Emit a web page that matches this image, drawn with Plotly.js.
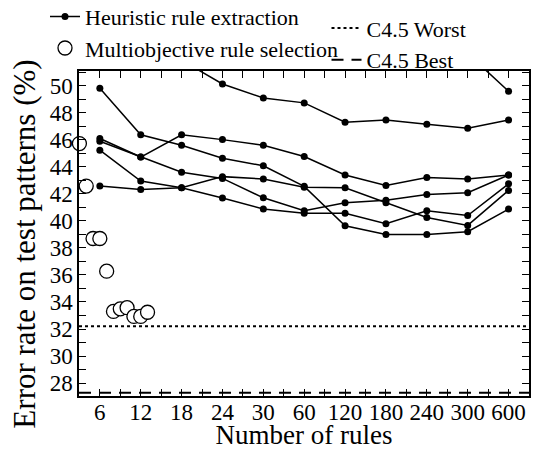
<!DOCTYPE html>
<html>
<head>
<meta charset="utf-8">
<script src="https://cdn.plot.ly/plotly-3.0.1.min.js"></script>
<style>
html,body{margin:0;padding:0;background:#fff;}
#chart{width:536px;height:450px;}
</style>
</head>
<body>
<div id="chart"></div>
<script>
// Categories of the x axis (number of rules), equally spaced
const ruleLabels = ['6', '12', '18', '24', '30', '60', '120', '180', '240', '300', '600'];

// Heuristic rule extraction: error rate (%) for each rule-set size (7 criteria)
const heurA = [53.5, 52.6, 51.9, 50.14, 49.1, 48.74, 47.31, 47.48, 47.16, 46.87, 47.48];
const heurZ = [55.0, 54.5, 54.0, 53.8, 53.5, 53.3, 53.0, 52.8, 52.6, 52.4, 49.6];
const heurC = [49.83, 46.38, 45.6, 44.64, 44.08, 42.56, 39.64, 38.99, 38.99, 39.2, 40.88];
const heurD = [46.1, 44.73, 46.38, 46.02, 45.6, 44.77, 43.4, 42.63, 43.22, 43.11, 43.4];
const heurE = [45.9, 44.73, 43.6, 43.15, 41.71, 40.76, 41.35, 41.53, 41.95, 42.09, 43.4];
const heurF = [45.24, 42.95, 42.46, 43.28, 43.11, 42.5, 42.46, 41.35, 40.25, 39.67, 42.26];
const heurG = [42.58, 42.33, 42.46, 41.7, 40.88, 40.57, 40.57, 39.79, 40.76, 40.4, 42.75];

// Multiobjective rule selection: number of rules and error rate (%)
const moRules = [3, 4, 5, 6, 7, 8, 9, 10, 11, 12, 13];
const moError = [45.73, 42.58, 38.70, 38.70, 36.28, 33.30, 33.49, 33.58, 32.93, 32.93, 33.24];

// C4.5 reference error rates (%)
const c45Worst = 32.2;
const c45Best = 27.28;

// y tick labels
const yTickVals = [28, 30, 32, 34, 36, 38, 40, 42, 44, 46, 48, 50];

// ---- build ----
const catPos = ruleLabels.map((_, i) => i + 1);          // category positions
const rulesToPos = n => n / 6;                             // 6 rules -> pos 1, 12 rules -> pos 2 (linear region)
const xRange = [0.49, 11.5];
const yRange = [27.04, 51.1];

const FONT = 'Liberation Serif';
const traces = [];
const heurSeries = [heurA, heurZ, heurC, heurD, heurE, heurF, heurG];
heurSeries.forEach((ys, k) => {
  traces.push({
    type: 'scatter', mode: 'lines+markers', x: catPos, y: ys,
    name: 'Heuristic rule extraction', legendgroup: 'heur', showlegend: k === 0,
    legend: 'legend',
    line: {color: '#000', width: 1.5},
    marker: {color: '#000', size: 7, symbol: 'circle'}
  });
});
traces.push({
  type: 'scatter', mode: 'markers', x: moRules.map(rulesToPos), y: moError,
  name: 'Multiobjective rule selection', legend: 'legend', cliponaxis: false,
  marker: {symbol: 'circle', size: 14, color: '#fff', line: {color: '#000', width: 1.3}}
});
traces.push({
  type: 'scatter', mode: 'lines', x: xRange, y: [c45Worst, c45Worst],
  name: 'C4.5 Worst', legend: 'legend2',
  line: {color: '#000', width: 2, dash: '3px,3px'}
});
traces.push({
  type: 'scatter', mode: 'lines', x: xRange, y: [c45Best, c45Best],
  name: 'C4.5 Best', legend: 'legend2',
  line: {color: '#000', width: 2, dash: '12px,8px'}
});

const xTickVals = [], xTickText = [];
for (let v = 0.5; v <= 11.5; v += 0.5) {
  xTickVals.push(v);
  xTickText.push(Number.isInteger(v) ? ruleLabels[v - 1] : '');
}

const layout = {
  width: 536, height: 450,
  margin: {l: 79, r: 7, t: 65, b: 54},
  paper_bgcolor: '#fff', plot_bgcolor: '#fff',
  font: {family: FONT, color: '#000', size: 22},
  showlegend: true,
  xaxis: {
    range: xRange, tickmode: 'array', tickvals: xTickVals, ticktext: xTickText,
    ticks: 'inside', ticklen: 7, tickwidth: 1.2, tickcolor: '#000',
    showline: true, linecolor: '#000', linewidth: 1.5, mirror: 'ticks',
    showgrid: false, zeroline: false, automargin: false, ticklabelstandoff: -5,
    tickfont: {family: FONT, size: 23, color: '#000'},
    title: {text: 'Number of rules', font: {family: FONT, size: 27, color: '#000'}, standoff: 5}
  },
  yaxis: {
    range: yRange, tickmode: 'array', tickvals: yTickVals,
    ticks: 'inside', ticklen: 7, tickwidth: 1.2, tickcolor: '#000',
    minor: {dtick: 1, tick0: 0, ticks: 'inside', ticklen: 7, tickwidth: 1.2, tickcolor: '#000'},
    showline: true, linecolor: '#000', linewidth: 1.5, mirror: 'ticks',
    showgrid: false, zeroline: false, automargin: false,
    tickfont: {family: FONT, size: 23, color: '#000'},
    title: {text: 'Error rate on test patterns (%)', font: {family: FONT, size: 31, color: '#000'}, standoff: 8}
  },
  legend: {
    x: -0.076, xanchor: 'left', y: 1.196, yanchor: 'top', orientation: 'v',
    bgcolor: 'rgba(0,0,0,0)', borderwidth: 0, tracegroupgap: 0,
    font: {family: FONT, size: 22, color: '#000'}
  },
  legend2: {
    x: 0.55, xanchor: 'left', y: 1.196, yanchor: 'top', orientation: 'v',
    bgcolor: 'rgba(0,0,0,0)', borderwidth: 0, tracegroupgap: 0,
    font: {family: FONT, size: 22, color: '#000'}
  }
};

Plotly.newPlot('chart', traces, layout, {displayModeBar: false}).then(function (gd) {
  const box = gd.getBoundingClientRect();
  const texts = Array.prototype.slice.call(gd.querySelectorAll('.legendtext'));
  // place the legend holding the entry `label` so that this entry's text starts at targetLeft, centred at targetMid
  function placeLegend(label, targetLeft, targetMid) {
    const txt = texts.find(function (t) { return (t.textContent || '').trim() === label; });
    if (!txt) return;
    let g = txt.parentNode;
    while (g && g !== gd && !(g.classList && g.classList.contains('traces'))) g = g.parentNode;
    // climb from the entry to the outer legend group (the one carrying the legend's translate)
    let outer = txt.parentNode, candidate = null;
    while (outer && outer !== gd) {
      if (outer.tagName && outer.tagName.toLowerCase() === 'g' && outer.classList &&
          Array.prototype.some.call(outer.classList, function (c) { return /^legend\d*$/.test(c); })) {
        candidate = outer;
      }
      outer = outer.parentNode;
    }
    if (!candidate) return;
    const r = txt.getBoundingClientRect();
    const dx = targetLeft - (r.left - box.left);
    const dy = targetMid - (r.top - box.top + r.height / 2);
    const m = /translate\(\s*([-\d.eE]+)[\s,]+([-\d.eE]+)\s*\)/.exec(candidate.getAttribute('transform') || '');
    const x0 = m ? parseFloat(m[1]) : 0, y0 = m ? parseFloat(m[2]) : 0;
    candidate.setAttribute('transform', 'translate(' + (x0 + dx) + ',' + (y0 + dy) + ')');
  }
  placeLegend('Heuristic rule extraction', 85, 17.5);
  placeLegend('C4.5 Worst', 375, 17.5);
  // centre the y-axis title where the reference has it
  const yt = gd.querySelector('.ytitle');
  if (yt) {
    const r = yt.getBoundingClientRect();
    const dx = 24 - (r.left - box.left + r.width / 2);
    const dy = 244 - (r.top - box.top + r.height / 2);
    yt.setAttribute('transform', 'translate(' + dx + ',' + dy + ') ' + (yt.getAttribute('transform') || ''));
  }
});
</script>
</body>
</html>
